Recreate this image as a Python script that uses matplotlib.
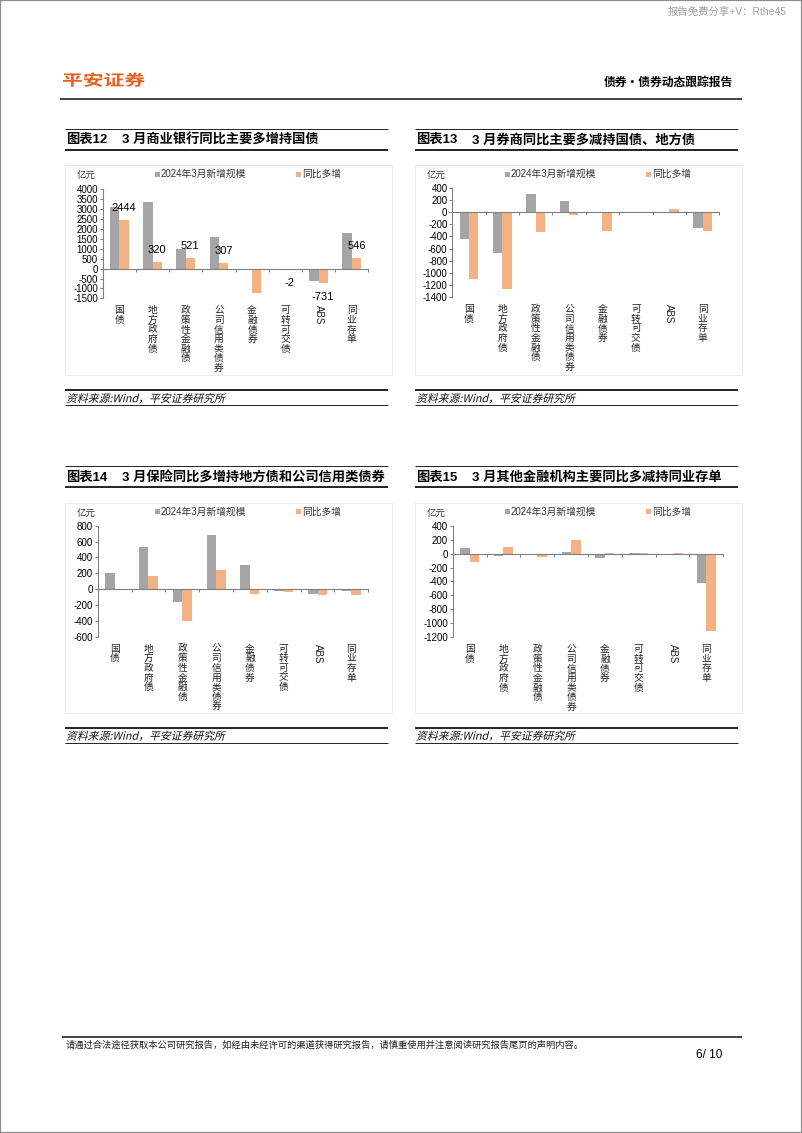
import matplotlib
matplotlib.use("Agg")
import matplotlib.pyplot as plt
import numpy as np
from matplotlib.font_manager import FontProperties
from matplotlib.lines import Line2D
from matplotlib.patches import PathPatch, Rectangle
from matplotlib.textpath import TextPath
from matplotlib.transforms import Affine2D, IdentityTransform

plt.rcParams["font.family"] = ["Liberation Sans", "Noto Sans CJK SC"]
plt.rcParams["axes.unicode_minus"] = False

W, H = 802, 1133
DPI = 100

CATEGORIES = ["国债", "地方政府债", "政策性金融债", "公司信用类债券", "金融债券", "可转可交债", "ABS", "同业存单"]
SERIES = ["2024年3月新增规模", "同比多增"]

# 亿元
BANK_NEW = [3100, 3370, 980, 1585, -20, -20, -600, 1820]
BANK_YOY = [2444, 320, 521, 307, -1250, -2, -731, 546]
BANK_LABELED = [True, True, True, True, False, True, True, True]

BROKER_NEW = [-444, -674, 301, 186, -22, 5, 5, -263]
BROKER_YOY = [-1101, -1266, -329, -55, -318, 2, 55, -307]

INSUR_NEW = [202, 529, -160, 685, 302, -20, -59, -21]
INSUR_YOY = [0, 168, -408, 235, -63, -30, -71, -80]

OTHER_NEW = [80, -28, -4, 19, -70, 14, -19, -420]
OTHER_YOY = [-119, 91, -45, 196, 2, 5, 3, -1107]

SOURCE = "资料来源:Wind，平安证券研究所"
FOOTER = "请通过合法途径获取本公司研究报告，如经由未经许可的渠道获得研究报告，请慎重使用并注意阅读研究报告尾页的声明内容。"

GRAY = "#a5a5a5"
ORANGE = "#f4b183"
AXIS = "#7f7f7f"

PANELS = [
    dict(num="图表12", title="3 月商业银行同比主要多增持国债", new=BANK_NEW, yoy=BANK_YOY,
         labeled=BANK_LABELED, ylim=(-1500, 4000), step=500,
         left=65, top=129, ax_px=(102.7, 368.3, 189.3, 298.4)),
    dict(num="图表13", title="3 月券商同比主要多减持国债、地方债", new=BROKER_NEW, yoy=BROKER_YOY,
         labeled=None, ylim=(-1400, 400), step=200,
         left=415, top=129, ax_px=(452.3, 719.3, 187.7, 297.3)),
    dict(num="图表14", title="3 月保险同比多增持地方债和公司信用类债券", new=INSUR_NEW, yoy=INSUR_YOY,
         labeled=None, ylim=(-600, 800), step=200,
         left=65, top=466.5, ax_px=(97.7, 368.3, 525.7, 636.7)),
    dict(num="图表15", title="3 月其他金融机构主要同比多减持同业存单", new=OTHER_NEW, yoy=OTHER_YOY,
         labeled=None, ylim=(-1200, 400), step=200,
         left=415, top=466.5, ax_px=(452.7, 723.3, 525.7, 637.3)),
]


def fx(x):
    return x / W


def fy(y):
    return 1 - y / H


def hline(fig, x0, x1, y, lw, color="#222222"):
    fig.add_artist(Line2D([fx(x0), fx(x1)], [fy(y), fy(y)], transform=fig.transFigure,
                          color=color, lw=lw, solid_capstyle="butt"))


def path_text(fig, x, y, s, size, sx=1.0, skew=0, weight="normal", color="#111111"):
    """Text as a path, so it can be sheared (CJK fonts have no italic) or stretched.
    x, y in px from top-left, y is the vertical middle of the glyphs."""
    prop = FontProperties(family="Noto Sans CJK SC", size=size, weight=weight)
    tp = TextPath((0, 0), s, prop=prop)
    k = DPI / 72
    base = H - y - 0.36 * size * k
    tr = Affine2D().skew_deg(skew, 0).scale(k * sx, k).translate(x, base)
    fig.add_artist(PathPatch(tr.transform_path(tp), facecolor=color, lw=0,
                             transform=IdentityTransform()))


def draw_panel(fig, p):
    x0, top = p["left"], p["top"]
    x1 = x0 + 323
    hline(fig, x0, x1, top, 0.7)
    fig.text(fx(x0 + 1), fy(top + 11), p["num"], fontsize=9.5, fontweight="bold", va="center")
    fig.text(fx(x0 + 57), fy(top + 11), p["title"], fontsize=9.5, fontweight="bold", va="center")
    hline(fig, x0, x1, top + 20.5, 1.4)

    fig.add_artist(Rectangle((fx(x0), fy(top + 246)), 327 / W, 210 / H, transform=fig.transFigure,
                             fill=False, edgecolor="#ebebeb", lw=0.7))

    # legend
    ly = top + 45
    for dx, name, color in [(92, SERIES[0], GRAY), (233, SERIES[1], ORANGE)]:
        fig.add_artist(Rectangle((fx(x0 + dx - 2.5), fy(ly + 2.5)), 5 / W, 5 / H,
                                 transform=fig.transFigure, color=color, lw=0))
        fig.text(fx(x0 + dx + 4), fy(ly), name, fontsize=7, va="center", color="#333333")
    fig.text(fx(x0 + 12), fy(ly + 2.5), "亿元", fontsize=6.8, va="center", color="#333333")

    l, r, t, b = p["ax_px"]
    ax = fig.add_axes([fx(l), fy(b), (r - l) / W, (b - t) / H])
    x = np.arange(len(CATEGORIES))
    w = 0.28
    ax.bar(x - w / 2, p["new"], w, color=GRAY)
    ax.bar(x + w / 2, p["yoy"], w, color=ORANGE)
    ax.set_xlim(-0.5, len(CATEGORIES) - 0.5)
    ax.set_ylim(*p["ylim"])
    ax.set_yticks(np.arange(p["ylim"][0], p["ylim"][1] + 1, p["step"]))
    ax.set_xticks(np.arange(len(CATEGORIES) + 1) - 0.5)
    ax.set_xticklabels([])
    ax.tick_params(axis="y", labelsize=7, length=2, width=0.7, color=AXIS, pad=1.5)
    ax.tick_params(axis="x", length=2.2, width=0.7, color=AXIS)
    for side in ("top", "right"):
        ax.spines[side].set_visible(False)
    ax.spines["bottom"].set_position(("data", 0))
    for side in ("left", "bottom"):
        ax.spines[side].set_color(AXIS)
        ax.spines[side].set_linewidth(0.8)
    ax.patch.set_alpha(0)

    if p["labeled"]:
        for i, v in enumerate(p["yoy"]):
            if p["labeled"][i]:
                ax.annotate(f"{v}", (i + w / 2, v), xytext=(0, 12 if v >= 0 else -14),
                            textcoords="offset pixels", ha="center", va="center", fontsize=8)

    for i, name in enumerate(CATEGORIES):
        if name.isascii():
            ax.annotate(name, (i, 0), xycoords=("data", "axes fraction"), xytext=(0, -7),
                        textcoords="offset pixels", ha="center", va="top", rotation=270,
                        fontsize=7, color="#222222")
        else:
            ax.annotate("\n".join(name), (i, 0), xycoords=("data", "axes fraction"),
                        xytext=(0, -7), textcoords="offset pixels", ha="center", va="top",
                        fontsize=7, linespacing=0.95, color="#222222", family="Noto Sans CJK SC")

    hline(fig, x0, x1, top + 261, 1.4)
    path_text(fig, x0 + 1, top + 269.3, SOURCE, 7.8, skew=14)
    hline(fig, x0, x1, top + 276, 0.7)


fig = plt.figure(figsize=(W / DPI, H / DPI), dpi=DPI)

fig.add_artist(Rectangle((0, 0), 1, 1, transform=fig.transFigure, fill=False,
                         edgecolor="#8c8c8c", lw=1.6))
fig.text(fx(787), fy(12), "报告免费分享+V：Rthe45", fontsize=7.5, color="#a0a0a0",
         ha="right", va="center")
path_text(fig, 62, 80, "平安证券", 11, sx=1.36, weight="bold", color="#e8601c")
fig.text(fx(733), fy(82), "债券·债券动态跟踪报告", fontsize=8.5, fontweight="bold",
         ha="right", va="center", family="Noto Sans CJK SC")
hline(fig, 60, 742, 98.5, 1.2)

for p in PANELS:
    draw_panel(fig, p)

hline(fig, 62, 742, 1037, 1.2)
fig.text(fx(66), fy(1045), FOOTER, fontsize=6.7, va="center", color="#222222",
         family="Noto Sans CJK SC")
fig.text(fx(722), fy(1055), "6/ 10", fontsize=8.5, ha="right", va="center")

fig.savefig("out.png", dpi=DPI)
